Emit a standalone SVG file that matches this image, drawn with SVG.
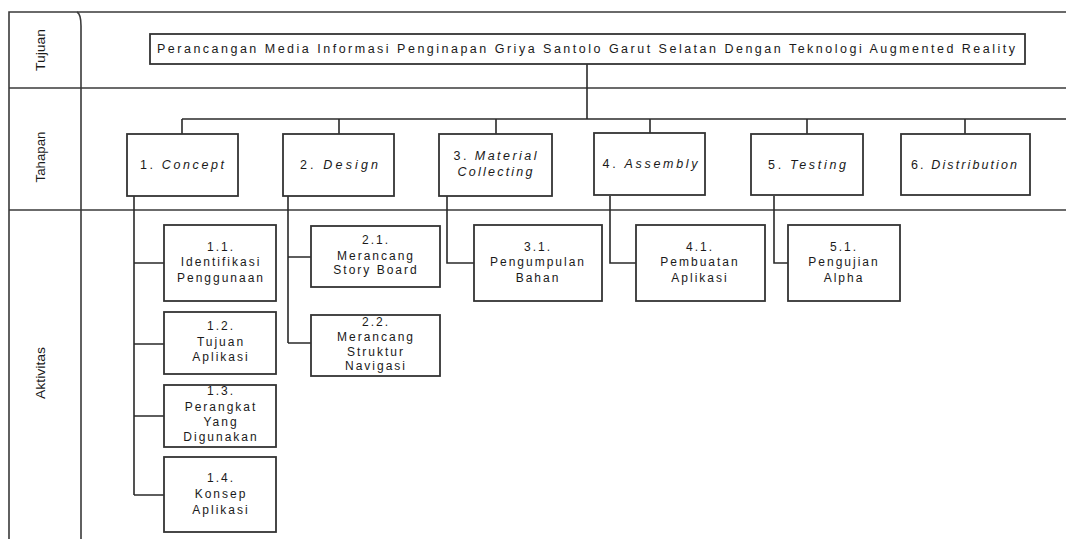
<svg xmlns="http://www.w3.org/2000/svg" width="1066" height="539" viewBox="0 0 1066 539">
<style>
.frame{fill:none;stroke:#3a3a3a;stroke-width:1.6}
.box{fill:#fff;stroke:#333;stroke-width:1.8}
.con{fill:none;stroke:#2a2a2a;stroke-width:1.6}
text{font-family:"Liberation Sans",Arial,sans-serif;fill:#1a1a1a;text-anchor:middle}
.lane{font-size:13px}
.t{font-size:12.5px}
.a{font-size:12px;letter-spacing:2px}
.i{font-style:italic}
</style>
<rect width="1066" height="539" fill="#fff"/>
<g id="frame">
<path class="frame" d="M9,539 V12 H1066"/>
<path class="frame" d="M77,12 Q81,14 81,26 V539"/>
<path class="frame" d="M9,88 H1066"/>
<path class="frame" d="M9,210 H1066"/>
</g>
<g id="lanes">
<text class="lane" transform="translate(45,50) rotate(-90)" textLength="42" lengthAdjust="spacingAndGlyphs">Tujuan</text>
<text class="lane" transform="translate(45,157) rotate(-90)" textLength="51" lengthAdjust="spacingAndGlyphs">Tahapan</text>
<text class="lane" transform="translate(45,373) rotate(-90)" textLength="52" lengthAdjust="spacingAndGlyphs">Aktivitas</text>
</g>
<g id="connectors">
<path class="con" d="M587,64 V119" stroke-width="2.6"/>
<path class="con" d="M182,119 H1066"/>
<path class="con" d="M182,119 V134 M339,119 V134 M496,119 V134 M650,119 V134 M807,119 V134 M965,119 V134"/>
<path class="con" d="M134,196 V495 M134,263 H164 M134,344 H164 M134,416 H164 M134,495 H164"/>
<path class="con" d="M288,196 V343 M288,257 H311 M288,343 H311"/>
<path class="con" d="M447,196 V263 H474"/>
<path class="con" d="M610,196 V263 H636"/>
<path class="con" d="M774,196 V263 H788"/>
</g>
<g id="tujuan">
<rect class="box" x="150" y="34" width="875" height="30"/>
<text class="t" x="586" y="53" textLength="858" lengthAdjust="spacing">Perancangan Media Informasi Penginapan Griya Santolo Garut Selatan Dengan Teknologi Augmented Reality</text>
</g>
<g id="concept">
<rect class="box" x="127" y="134" width="111" height="62"/>
<text class="t" x="182" y="169" textLength="84" lengthAdjust="spacing">1. <tspan class="i">Concept</tspan></text>
</g>
<g id="design">
<rect class="box" x="283" y="134" width="111" height="62"/>
<text class="t" x="339" y="169" textLength="78" lengthAdjust="spacing">2. <tspan class="i">Design</tspan></text>
</g>
<g id="material">
<rect class="box" x="439" y="134" width="113" height="62"/>
<text class="t" x="495" y="160" textLength="83" lengthAdjust="spacing">3. <tspan class="i">Material</tspan></text>
<text class="t i" x="495" y="176" textLength="75" lengthAdjust="spacing">Collecting</text>
</g>
<g id="assembly">
<rect class="box" x="594" y="133" width="111" height="62"/>
<text class="t" x="650" y="168" textLength="95" lengthAdjust="spacing">4. <tspan class="i">Assembly</tspan></text>
</g>
<g id="testing">
<rect class="box" x="751" y="134" width="112" height="61"/>
<text class="t" x="807" y="169" textLength="78" lengthAdjust="spacing">5. <tspan class="i">Testing</tspan></text>
</g>
<g id="distribution">
<rect class="box" x="901" y="134" width="129" height="61"/>
<text class="t" x="964" y="169" textLength="106" lengthAdjust="spacing">6. <tspan class="i">Distribution</tspan></text>
</g>
<g id="a11">
<rect class="box" x="164" y="225" width="112" height="76"/>
<text class="a" x="221" y="251">1.1.</text>
<text class="a" x="221" y="266">Identifikasi</text>
<text class="a" x="221" y="282">Penggunaan</text>
</g>
<g id="a12">
<rect class="box" x="164" y="312" width="112" height="62"/>
<text class="a" x="221" y="330">1.2.</text>
<text class="a" x="221" y="346">Tujuan</text>
<text class="a" x="221" y="361">Aplikasi</text>
</g>
<g id="a13">
<rect class="box" x="164" y="385" width="112" height="62"/>
<text class="a" x="221" y="395">1.3.</text>
<text class="a" x="221" y="411">Perangkat</text>
<text class="a" x="221" y="426">Yang</text>
<text class="a" x="221" y="441">Digunakan</text>
</g>
<g id="a14">
<rect class="box" x="164" y="457" width="112" height="75"/>
<text class="a" x="221" y="482">1.4.</text>
<text class="a" x="221" y="498">Konsep</text>
<text class="a" x="221" y="514">Aplikasi</text>
</g>
<g id="a21">
<rect class="box" x="311" y="226" width="129" height="61"/>
<text class="a" x="376" y="244">2.1.</text>
<text class="a" x="376" y="260">Merancang</text>
<text class="a" x="376" y="274">Story Board</text>
</g>
<g id="a22">
<rect class="box" x="311" y="315" width="129" height="61"/>
<text class="a" x="376" y="326">2.2.</text>
<text class="a" x="376" y="341">Merancang</text>
<text class="a" x="376" y="356">Struktur</text>
<text class="a" x="376" y="370">Navigasi</text>
</g>
<g id="a31">
<rect class="box" x="474" y="225" width="128" height="76"/>
<text class="a" x="538" y="251">3.1.</text>
<text class="a" x="538" y="266">Pengumpulan</text>
<text class="a" x="538" y="282">Bahan</text>
</g>
<g id="a41">
<rect class="box" x="636" y="225" width="129" height="76"/>
<text class="a" x="700" y="251">4.1.</text>
<text class="a" x="700" y="266">Pembuatan</text>
<text class="a" x="700" y="282">Aplikasi</text>
</g>
<g id="a51">
<rect class="box" x="788" y="225" width="112" height="76"/>
<text class="a" x="844" y="251">5.1.</text>
<text class="a" x="844" y="266">Pengujian</text>
<text class="a" x="844" y="282">Alpha</text>
</g>
</svg>
